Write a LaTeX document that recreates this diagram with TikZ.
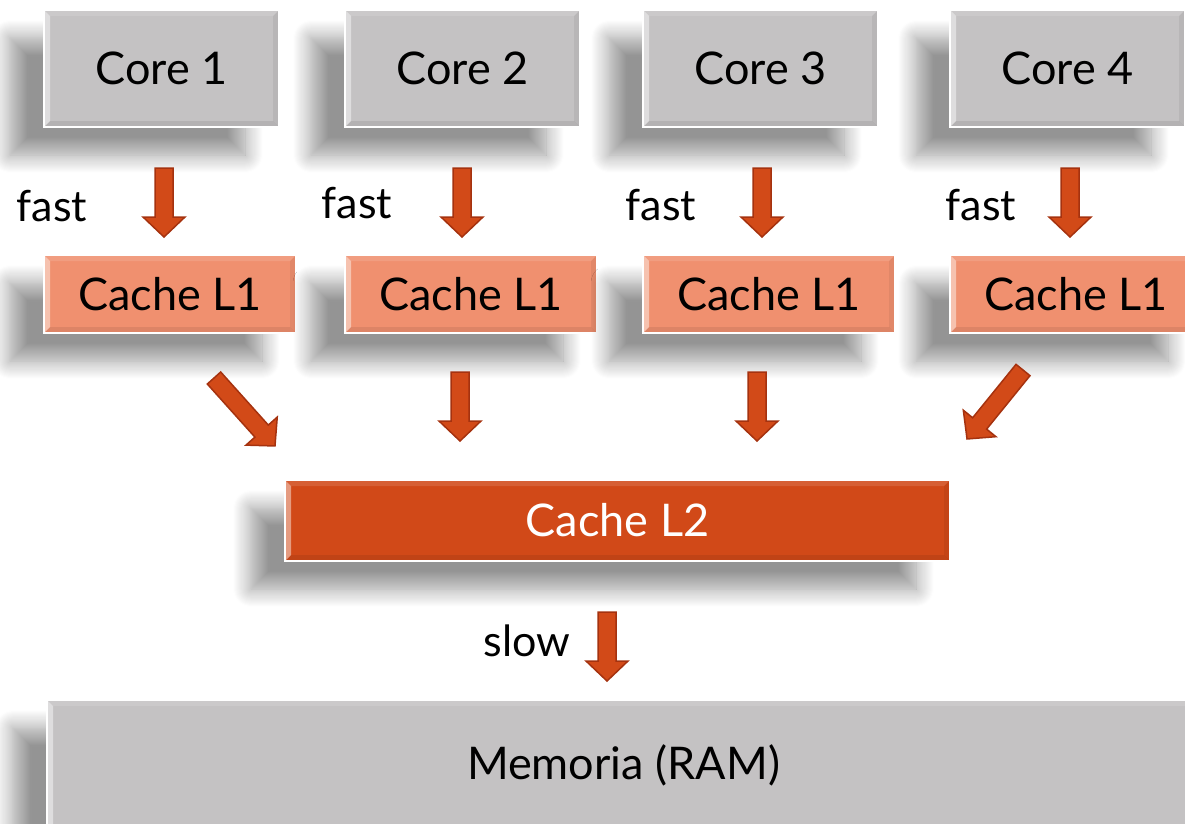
\documentclass[tikz,border=0pt]{standalone}
\usepackage{fontspec}
\setmainfont{Lato}
\usetikzlibrary{calc,shadows.blur}

\definecolor{coregray}{HTML}{C4C2C3}
\definecolor{lonefill}{HTML}{F0906F}
\definecolor{ltwofill}{HTML}{D14918}
\definecolor{arrfill}{HTML}{D24A18}
\definecolor{arrline}{HTML}{A5320F}

\tikzset{
  bevel/.style={path picture={
    \path (path picture bounding box.south west) coordinate (bsw)
          (path picture bounding box.north east) coordinate (bne);
    \fill[white,opacity=.45] (bsw) -- (bsw|-bne) -- ++(6,-6) -- ($(bsw)+(6,6)$) -- cycle;
    \fill[white,opacity=.12] (bsw|-bne) -- (bne) -- ++(-6,-6) -- ($(bsw|-bne)+(6,-6)$) -- cycle;
    \fill[black,opacity=.06] (bne) -- (bne|-bsw) -- ++(-6,6) -- ($(bne)+(-6,-6)$) -- cycle;
    \fill[black,opacity=.08] (bsw) -- (bne|-bsw) -- ++(-6,6) -- ($(bsw)+(6,6)$) -- cycle;
  }},
  boxbase/.style={draw=white, line width=1.5pt, inner sep=0pt, bevel,
    font=\fontsize{45}{54}\selectfont,
    blur shadow={shadow xshift=-34pt, shadow yshift=-28pt,
                 shadow blur radius=18pt, shadow blur steps=18, shadow opacity=42}},
  corebox/.style={boxbase, fill=coregray, minimum width=235pt, minimum height=117pt},
  lonebox/.style={boxbase, fill=lonefill, minimum width=252pt, minimum height=78pt},
  ltwobox/.style={boxbase, fill=ltwofill, text=white, minimum width=665pt, minimum height=81pt},
  membox/.style={boxbase, fill=coregray, minimum width=1153pt, minimum height=130pt},
  lbl/.style={inner sep=0pt, font=\fontsize{43}{52}\selectfont},
  barrow/.style={fill=arrfill, draw=arrline, line width=1.5pt, line join=miter},
}

% block arrow from the first named coordinate to the second
\newcommand\blockarrow[2]{%
  \filldraw[barrow] let \p1=($(#2)-(#1)$), \n1={veclen(\x1,\y1)}, \n2={atan2(\y1,\x1)} in
    [shift={(#1)}, rotate=\n2]
    (0,-9) -- ({\n1-20},-9) -- ({\n1-20},-21) -- (\n1,0) -- ({\n1-20},21)
    -- ({\n1-20},9) -- (0,9) -- cycle;}

\begin{document}
\begin{tikzpicture}[x=1pt,y=1pt]
  \useasboundingbox (0,0) rectangle (1185,-823);
  \clip (0,0) rectangle (1185,-823);

  % cores
  \node[corebox] (c1) at (161.5,-68.5) {Core 1};
  \node[corebox] (c2) at (462.5,-68.5) {Core 2};
  \node[corebox] (c3) at (760.5,-68.5) {Core 3};
  \node[corebox] (c4) at (1067.5,-68.5) {Core 4};

  % level-1 caches
  \node[lonebox] (l1a) at (170,-294) {Cache L1};
  \node[lonebox] (l1b) at (471,-294) {Cache L1};
  \node[lonebox] (l1c) at (769,-294) {Cache L1};
  \node[lonebox] (l1d) at (1076,-294) {Cache L1};

  % shared level-2 cache and main memory
  \node[ltwobox] (l2) at (617.5,-520.5) {Cache L2};
  \node[membox] (mem) at (623.5,-765) {Memoria (RAM)};

  % labels
  \node[lbl] (f1) at (52,-206) {fast};
  \node[lbl] (f2) at (357,-203) {fast};
  \node[lbl] (f3) at (661,-205) {fast};
  \node[lbl] (f4) at (981,-205) {fast};
  \node[lbl] (sl) at (527,-641) {slow};

  % arrow end points
  \coordinate (a1s) at (164,-168);  \coordinate (a1e) at (164,-237);
  \coordinate (a2s) at (462,-168);  \coordinate (a2e) at (462,-237);
  \coordinate (a3s) at (762,-168);  \coordinate (a3e) at (762,-237);
  \coordinate (a4s) at (1070,-168); \coordinate (a4e) at (1070,-237);
  \coordinate (b1s) at (214,-378);  \coordinate (b1e) at (275,-446);
  \coordinate (b2s) at (460,-372);  \coordinate (b2e) at (460,-441);
  \coordinate (b3s) at (757,-372);  \coordinate (b3e) at (757,-441);
  \coordinate (b4s) at (1023,-370); \coordinate (b4e) at (967,-439);
  \coordinate (ms)  at (607,-612);  \coordinate (me)  at (607,-681);

  \blockarrow{a1s}{a1e}
  \blockarrow{a2s}{a2e}
  \blockarrow{a3s}{a3e}
  \blockarrow{a4s}{a4e}
  \blockarrow{b1s}{b1e}
  \blockarrow{b2s}{b2e}
  \blockarrow{b3s}{b3e}
  \blockarrow{b4s}{b4e}
  \blockarrow{ms}{me}
\end{tikzpicture}
\end{document}
